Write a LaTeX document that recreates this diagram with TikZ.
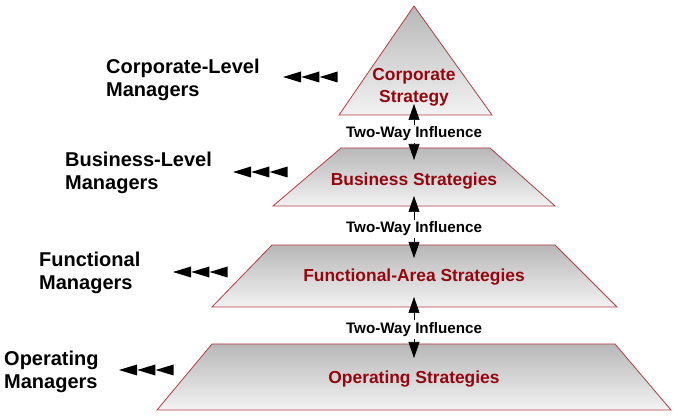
\documentclass[tikz,border=0pt]{standalone}
\usepackage{fontspec}
\setmainfont{Liberation Sans}
\usetikzlibrary{arrows.meta}

\definecolor{level line}{RGB}{180,60,70}
\definecolor{level red}{RGB}{150,5,15}

\begin{document}
\begin{tikzpicture}[x=1pt,y=-1pt,
  level/.style={draw=level line,line width=0.8pt,top color=black!28,bottom color=black!5},
  level text/.style={level red,font=\bfseries\fontsize{17.4}{22}\selectfont,align=center},
  manager/.style={anchor=north west,inner sep=0pt,align=left,font=\bfseries\fontsize{20}{22.5}\selectfont},
  influence/.style={fill=white,inner xsep=1pt,inner ysep=2pt,font=\bfseries\fontsize{15.2}{17}\selectfont},
  influence arrow/.style={line width=0.6pt,{Triangle[length=16pt,width=11pt]}-{Triangle[length=16pt,width=11pt]}}]
  \useasboundingbox (0,0) rectangle (678,419);

  % the four levels
  \coordinate (corporate apex) at (414,6);
  \draw[level] (corporate apex) -- (492,115) -- (339,115) -- cycle;
  \draw[level] (341,148) -- (490,148) -- (555,206) -- (273,206) -- cycle;
  \draw[level] (272,245) -- (555,245) -- (617,307) -- (212,307) -- cycle;
  \draw[level] (212,344) -- (615,344) -- (671,410) -- (157,410) -- cycle;

  \node[level text] (corporate) at (414,87) {Corporate\\Strategy};
  \node[level text] (business) at (414,181) {Business Strategies};
  \node[level text] (functional) at (414,277) {Functional-Area Strategies};
  \node[level text] (operating) at (414,379) {Operating Strategies};

  % two-way influence between levels
  \coordinate (up 1) at (414,104);
  \coordinate (down 1) at (414,160);
  \coordinate (up 2) at (414,196);
  \coordinate (down 2) at (414,258);
  \coordinate (up 3) at (414,297);
  \coordinate (down 3) at (414,358);
  \draw[influence arrow] (up 1) -- (down 1) node[influence,midway,yshift=-2pt] (influence 1) {Two-Way Influence};
  \draw[influence arrow] (up 2) -- (down 2) node[influence,midway,yshift=-2pt] (influence 2) {Two-Way Influence};
  \draw[influence arrow] (up 3) -- (down 3) node[influence,midway,yshift=-2pt] (influence 3) {Two-Way Influence};

  % managers
  \node[manager] (corporate managers) at (106,59) {Corporate-Level\\Managers};
  \node[manager] (business managers) at (65,152) {Business-Level\\Managers};
  \node[manager] (functional managers) at (39,252) {Functional\\Managers};
  \node[manager] (operating managers) at (4,351) {Operating\\Managers};

  \foreach \x/\y in {283/77,233/172,173/272,119/370}
    \foreach \i in {0,1,2}
      \fill ({\x+18.3*\i},\y) -- ({\x+18.3*\i+18},\y-5.5) -- ({\x+18.3*\i+18},\y+5.5) -- cycle;
\end{tikzpicture}
\end{document}
